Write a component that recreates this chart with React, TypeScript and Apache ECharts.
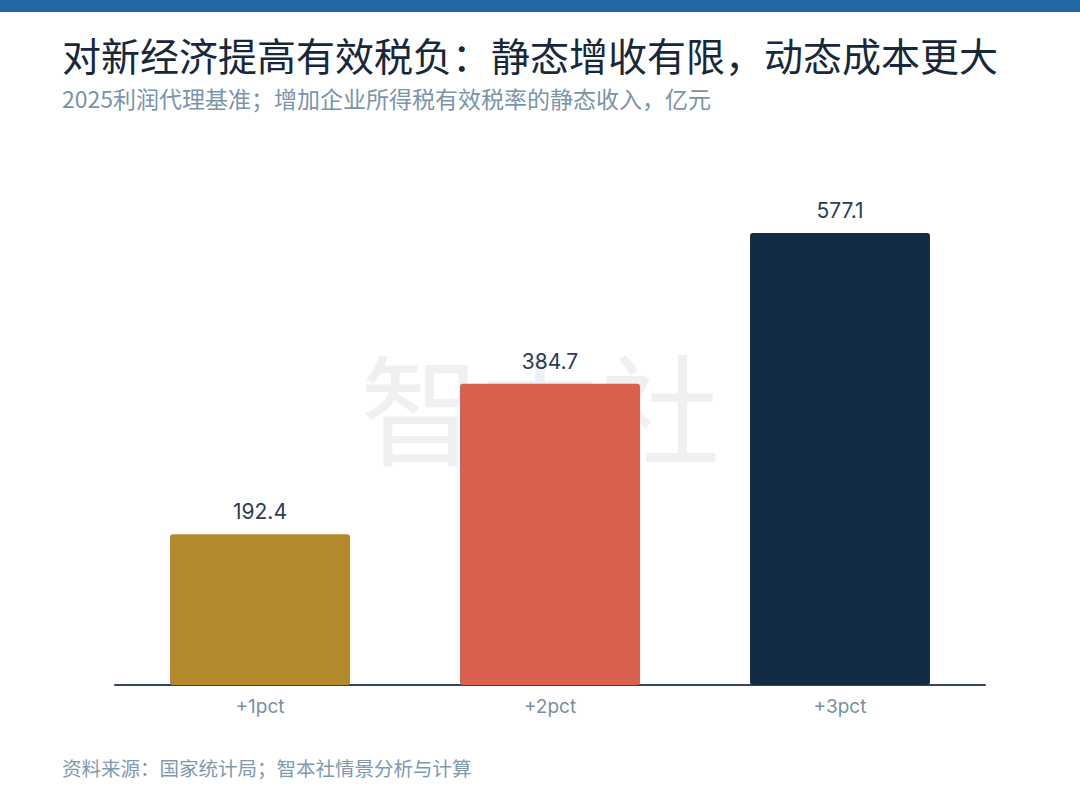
import React, { useEffect, useRef } from "react";
import * as echarts from "echarts";

const categories = ["+1pct", "+2pct", "+3pct"];
const values = [192.4, 384.7, 577.1];
const barColors = ["#b38a2e", "#d95f4f", "#132b45"];

const titleText = "对新经济提高有效税负：静态增收有限，动态成本更大";
const subtitleText = "2025利润代理基准；增加企业所得税有效税率的静态收入，亿元";
const sourceText = "资料来源：国家统计局；智本社情景分析与计算";
const watermarkText = "智本社";

const FONT = "'Noto Sans CJK SC', 'Noto Sans', sans-serif";
const NUMFONT = "Inter, 'Noto Sans CJK SC', sans-serif";

export default function App() {
  const ref = useRef<HTMLDivElement>(null);
  useEffect(() => {
    if (!ref.current) return;
    const chart = echarts.init(ref.current, null, { renderer: "svg" });
    chart.setOption({
      animation: false,
      backgroundColor: "#ffffff",
      textStyle: { fontFamily: FONT },
      graphic: [
        {
          type: "rect",
          left: 0,
          top: 0,
          shape: { width: 1080, height: 12 },
          style: { fill: "#2169a6" },
          z: 10,
        },
        {
          type: "text",
          left: 62,
          top: 34,
          style: {
            text: titleText,
            font: `39px ${FONT}`,
            fill: "#17283b",
          },
        },
        {
          type: "text",
          left: 62,
          top: 86,
          style: {
            text: subtitleText,
            font: `23px ${FONT}`,
            fill: "#7b93ab",
          },
        },
        {
          type: "text",
          left: 62,
          top: 758,
          style: {
            text: sourceText,
            font: `19.5px ${FONT}`,
            fill: "#8098b0",
          },
        },
        {
          type: "text",
          x: 540,
          y: 405,
          z: -10,
          style: {
            text: watermarkText,
            font: `120px ${FONT}`,
            fill: "#eef0f2",
            align: "center",
            verticalAlign: "middle",
          },
        },
      ],
      grid: { left: 115, right: 95, top: 215, bottom: 125, containLabel: false },
      xAxis: {
        type: "category",
        data: categories,
        axisLine: { show: true, lineStyle: { color: "#34445a", width: 2 } },
        axisTick: { show: false },
        axisLabel: {
          color: "#7a8ea6",
          fontSize: 19,
          margin: 12,
          fontFamily: NUMFONT,
        },
        z: 1,
      },
      yAxis: {
        type: "value",
        min: 0,
        max: 600,
        show: false,
        splitLine: { show: false },
      },
      series: [
        {
          type: "bar",
          barWidth: 180,
          z: 3,
          data: values.map((v, i) => ({
            value: v,
            itemStyle: { color: barColors[i], borderRadius: 3 },
          })),
          label: {
            show: true,
            position: "top",
            distance: 12,
            color: "#2c3d54",
            fontSize: 21,
            fontFamily: NUMFONT,
            formatter: (p: any) => Number(p.value).toFixed(1),
          },
        },
      ],
    });
    return () => chart.dispose();
  }, []);
  return (
    <div
      ref={ref}
      style={{ position: "fixed", left: 0, top: 0, width: 1080, height: 810 }}
    />
  );
}
